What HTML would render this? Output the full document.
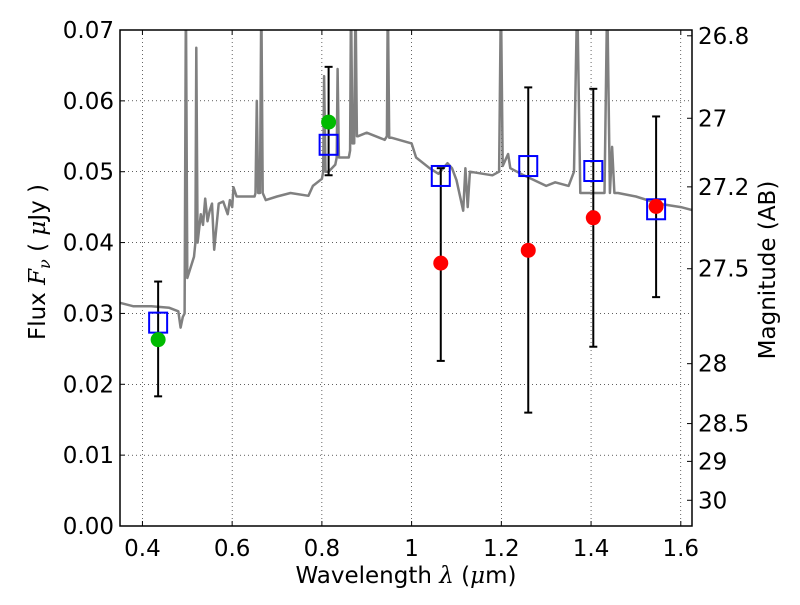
<!DOCTYPE html>
<html><head><meta charset="utf-8"><style>
body{margin:0;background:#fff}
svg text{font-family:"DejaVu Sans","Liberation Sans",sans-serif;fill:#000}
</style></head><body>
<svg id="chart" width="800" height="600" xmlns="http://www.w3.org/2000/svg"></svg>
<script>
const specWave=[0.35,0.38,0.42,0.46,0.48,0.485,0.49,0.494,0.497,0.50,0.51,0.515,0.518,0.52,0.523,0.53,0.535,0.54,0.545,0.55,0.555,0.56,0.57,0.58,0.59,0.595,0.60,0.603,0.61,0.65,0.652,0.655,0.658,0.662,0.665,0.668,0.675,0.70,0.73,0.77,0.78,0.80,0.803,0.805,0.808,0.815,0.83,0.833,0.835,0.838,0.845,0.86,0.863,0.865,0.868,0.872,0.875,0.878,0.88,0.90,0.94,0.945,0.947,0.95,0.955,1.00,1.01,1.04,1.06,1.08,1.09,1.10,1.115,1.12,1.125,1.13,1.18,1.195,1.199,1.203,1.215,1.22,1.25,1.3,1.32,1.35,1.362,1.369,1.376,1.40,1.43,1.436,1.442,1.447,1.452,1.46,1.50,1.55,1.60,1.625];
const specFlux=[0.0315,0.031,0.031,0.0308,0.0303,0.028,0.0295,0.03,0.075,0.035,0.037,0.038,0.04,0.0675,0.04,0.044,0.0425,0.0462,0.043,0.0445,0.0455,0.039,0.0455,0.0458,0.044,0.046,0.045,0.0478,0.0465,0.0465,0.047,0.06,0.047,0.047,0.075,0.047,0.046,0.0465,0.047,0.0466,0.048,0.049,0.05,0.0635,0.05,0.050,0.051,0.052,0.0645,0.052,0.052,0.052,0.053,0.075,0.054,0.054,0.075,0.055,0.055,0.0555,0.0545,0.055,0.075,0.0548,0.0548,0.054,0.052,0.0505,0.0497,0.0512,0.0505,0.0488,0.0445,0.0505,0.045,0.050,0.0495,0.05,0.075,0.0508,0.0525,0.0505,0.0495,0.048,0.0485,0.048,0.05,0.075,0.047,0.047,0.047,0.075,0.047,0.0535,0.047,0.047,0.0465,0.0455,0.045,0.0446];
const photWave=[0.435,0.815,1.065,1.26,1.405,1.545];
const modelFlux=[0.0287,0.0538,0.0494,0.0508,0.0501,0.0447];
const obsFlux=[0.0263,0.057,0.0371,0.0389,0.0435,0.0451];
const obsColor=['#00bb00','#00bb00','#ff0000','#ff0000','#ff0000','#ff0000'];
const errLow=[0.0183,0.0495,0.0233,0.016,0.0253,0.0323];
const errHigh=[0.0345,0.0648,0.0505,0.0619,0.0617,0.0578];
const xTicks=[0.4,0.6,0.8,1,1.2,1.4,1.6];
const xTickLabels=['0.4','0.6','0.8','1','1.2','1.4','1.6'];
const yTicks=[0,0.01,0.02,0.03,0.04,0.05,0.06,0.07];
const yTickLabels=['0.00','0.01','0.02','0.03','0.04','0.05','0.06','0.07'];
const magTicks=[26.8,27,27.2,27.5,28,28.5,29,30];
const magLabels=['26.8','27','27.2','27.5','28','28.5','29','30'];

const L=120,R=692,T=30,B=526,X0=0.35,X1=1.625,Y0=0,Y1=0.07;
const sx=v=>L+(v-X0)/(X1-X0)*(R-L);
const sy=v=>B-(v-Y0)/(Y1-Y0)*(B-T);
const NS='http://www.w3.org/2000/svg';
const svg=document.getElementById('chart');
function mk(tag,attrs,parent){const e=document.createElementNS(NS,tag);for(const k in attrs)e.setAttribute(k,attrs[k]);(parent||svg).appendChild(e);return e;}
const defs=mk('defs',{});const cp=mk('clipPath',{id:'clip'},defs);mk('rect',{x:L,y:T,width:R-L,height:B-T},cp);

xTicks.forEach((t,i)=>{
 const g=mk('line',{x1:sx(t),x2:sx(t),y1:T,y2:B,stroke:'#000','stroke-width':0.6,'stroke-dasharray':'1,3'});
 
 mk('line',{x1:sx(t),x2:sx(t),y1:B,y2:B-5,stroke:'#000'});
 mk('line',{x1:sx(t),x2:sx(t),y1:T,y2:T+5,stroke:'#000'});
 const tx=mk('text',{x:sx(t),y:B+30,'font-size':23,'text-anchor':'middle'});tx.textContent=xTickLabels[i];
 
});
yTicks.forEach((t,i)=>{
 const g=mk('line',{x1:L,x2:R,y1:sy(t),y2:sy(t),stroke:'#000','stroke-width':0.6,'stroke-dasharray':'1,3'});
 
 mk('line',{x1:L,x2:L+5,y1:sy(t),y2:sy(t),stroke:'#000'});
 const tx=mk('text',{x:L-6,y:sy(t)+8,'font-size':23,'text-anchor':'end'});tx.textContent=yTickLabels[i];
 
});
magTicks.forEach((m,i)=>{
 const f=Math.pow(10,(23.9-m)/2.5);const y=sy(f);
 mk('line',{x1:R,x2:R-5,y1:y,y2:y,stroke:'#000'});
 const tx=mk('text',{x:R+6,y:y+8,'font-size':23});tx.textContent=magLabels[i];
 
});

const pts=specWave.map((w,i)=>sx(w).toFixed(1)+','+sy(specFlux[i]).toFixed(1)).join(' ');
const sp=mk('polyline',{points:pts,fill:'none',stroke:'#808080','stroke-width':2.5,'clip-path':'url(#clip)','stroke-linejoin':'round'});


photWave.forEach((w,i)=>{
 const g=mk('g',{});
 const x=sx(w);
 mk('line',{x1:x,x2:x,y1:sy(errLow[i]),y2:sy(errHigh[i]),stroke:'#000','stroke-width':2},g);
 mk('line',{x1:x-4,x2:x+4,y1:sy(errLow[i]),y2:sy(errLow[i]),stroke:'#000','stroke-width':2},g);
 mk('line',{x1:x-4,x2:x+4,y1:sy(errHigh[i]),y2:sy(errHigh[i]),stroke:'#000','stroke-width':2},g);
});
photWave.forEach((w,i)=>{
 const r=mk('rect',{x:sx(w)-9,y:sy(modelFlux[i])-10,width:18,height:20,fill:'none',stroke:'#0000ff','stroke-width':2});
 
});
photWave.forEach((w,i)=>{
 const c=mk('circle',{cx:sx(w),cy:sy(obsFlux[i]),r:7.5,fill:obsColor[i]});
 
});

const fr=mk('rect',{x:L,y:T,width:R-L,height:B-T,fill:'none',stroke:'#000','stroke-width':1.5});


const xt=mk('text',{x:406,y:583,'font-size':23,'text-anchor':'middle'});
xt.setAttribute('xml:space','preserve');
xt.innerHTML='Wavelength  <tspan font-style="italic" font-family="DejaVu Serif, serif">λ</tspan> (<tspan font-style="italic" font-family="DejaVu Serif, serif">μ</tspan>m)';

const yt=mk('text',{x:0,y:0,'font-size':23,'text-anchor':'middle',transform:'translate(45,262) rotate(-90)'});
yt.setAttribute('xml:space','preserve');
yt.innerHTML='Flux  <tspan font-style="italic" font-family="DejaVu Serif, serif">F<tspan font-size="16" dy="5">ν</tspan></tspan><tspan dy="-5">  (  </tspan><tspan font-style="italic" font-family="DejaVu Serif, serif">μ</tspan>Jy )';

const rt=mk('text',{x:0,y:0,'font-size':23,'text-anchor':'middle',transform:'translate(775,270) rotate(-90)'});
rt.textContent='Magnitude (AB)';

</script>
</body></html>
